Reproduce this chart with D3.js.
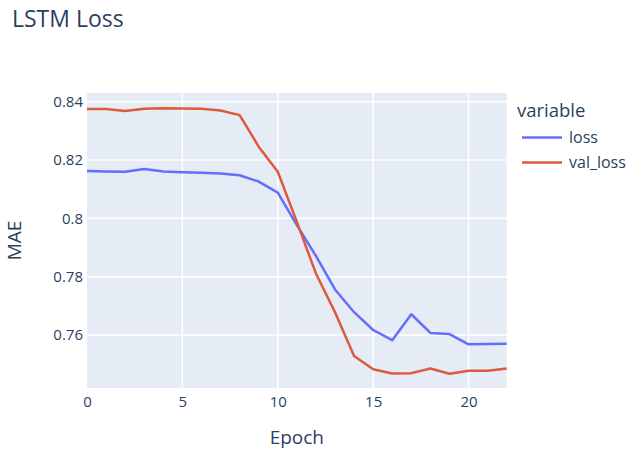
<!DOCTYPE html>
<html>
<head>
<meta charset="utf-8">
<script src="https://cdn.jsdelivr.net/npm/d3@7"></script>
<style>
body{margin:0;background:#fff;}
text{font-family:"Open Sans",verdana,arial,sans-serif;fill:#2a3f5f;}
</style>
</head>
<body>
<svg id="chart" width="642" height="450"></svg>
<script>
// epochs 0..22
var epochs = d3.range(0, 23);
var loss = [0.8162,0.8161,0.8160,0.8169,0.8161,0.8158,0.8156,0.8154,0.8148,0.8126,0.8088,
            0.7977,0.7871,0.7756,0.7678,0.7617,0.7582,0.7671,0.7607,0.7603,0.7568,0.7569,0.7570];
var val_loss = [0.8375,0.8375,0.8368,0.8376,0.8378,0.8377,0.8376,0.8370,0.8354,0.8246,0.8160,
                0.7988,0.7811,0.7678,0.7528,0.7482,0.7468,0.7469,0.7485,0.7467,0.7477,0.7477,0.7485];
var seriesNames = ["loss","val_loss"];
var colors = ["#636efa","#dd5a3c"];
var xTicks = [0,5,10,15,20];
var yTicks = [0.76,0.78,0.80,0.82,0.84];

var svg = d3.select("#chart");
var m = {left:87, right:506.7, top:93, bottom:388};

var x = d3.scaleLinear().domain([0,22]).range([m.left, m.right]);
var y = d3.scaleLinear().domain([0.7418,0.8430]).range([m.bottom, m.top]);

svg.append("rect").attr("x",m.left).attr("y",m.top)
  .attr("width",m.right-m.left).attr("height",m.bottom-m.top).attr("fill","#E5ECF6");

// grid
svg.append("g").selectAll("line").data(xTicks.filter(function(d){return d>0;})).enter().append("line")
  .attr("x1",function(d){return x(d);}).attr("x2",function(d){return x(d);})
  .attr("y1",m.top).attr("y2",m.bottom).attr("stroke","#fff").attr("stroke-width",1.5);
svg.append("g").selectAll("line").data(yTicks).enter().append("line")
  .attr("x1",m.left).attr("x2",m.right)
  .attr("y1",function(d){return y(d);}).attr("y2",function(d){return y(d);})
  .attr("stroke","#fff").attr("stroke-width",1.5);

// axes
var xAxis = svg.append("g").attr("transform","translate(0,"+m.bottom+")")
  .call(d3.axisBottom(x).tickValues(xTicks).tickSize(0).tickPadding(8));
var yAxis = svg.append("g").attr("transform","translate("+m.left+",0)")
  .call(d3.axisLeft(y).tickValues(yTicks).tickSize(0).tickPadding(4)
    .tickFormat(function(d){return d3.format("")(+d.toFixed(2));}));
[xAxis,yAxis].forEach(function(a){
  a.select(".domain").remove();
  a.selectAll("text").attr("font-size",15).style("fill","#2a3f5f");
});

// lines
var line = d3.line().x(function(d,i){return x(epochs[i]);}).y(function(d){return y(d);});
[loss,val_loss].forEach(function(s,i){
  svg.append("path").datum(s).attr("d",line).attr("fill","none")
    .attr("stroke",colors[i]).attr("stroke-width",2.5).attr("stroke-linejoin","round");
});

// titles
svg.append("text").attr("x",12).attr("y",27).attr("font-size",23).text("LSTM Loss");
svg.append("text").attr("x",(m.left+m.right)/2).attr("y",444).attr("text-anchor","middle")
  .attr("font-size",19).text("Epoch");
svg.append("text").attr("transform","translate(21,"+((m.top+m.bottom)/2)+") rotate(-90)")
  .attr("text-anchor","middle").attr("font-size",19).text("MAE");

// legend
var lg = svg.append("g");
lg.append("text").attr("x",517).attr("y",117).attr("font-size",18.5).text("variable");
seriesNames.forEach(function(n,i){
  var yy = 137.5 + i*25;
  lg.append("line").attr("x1",522).attr("x2",562).attr("y1",yy).attr("y2",yy)
    .attr("stroke",colors[i]).attr("stroke-width",2.5);
  lg.append("text").attr("x",569).attr("y",yy+5.5).attr("font-size",16).text(n);
});
</script>
</body>
</html>
